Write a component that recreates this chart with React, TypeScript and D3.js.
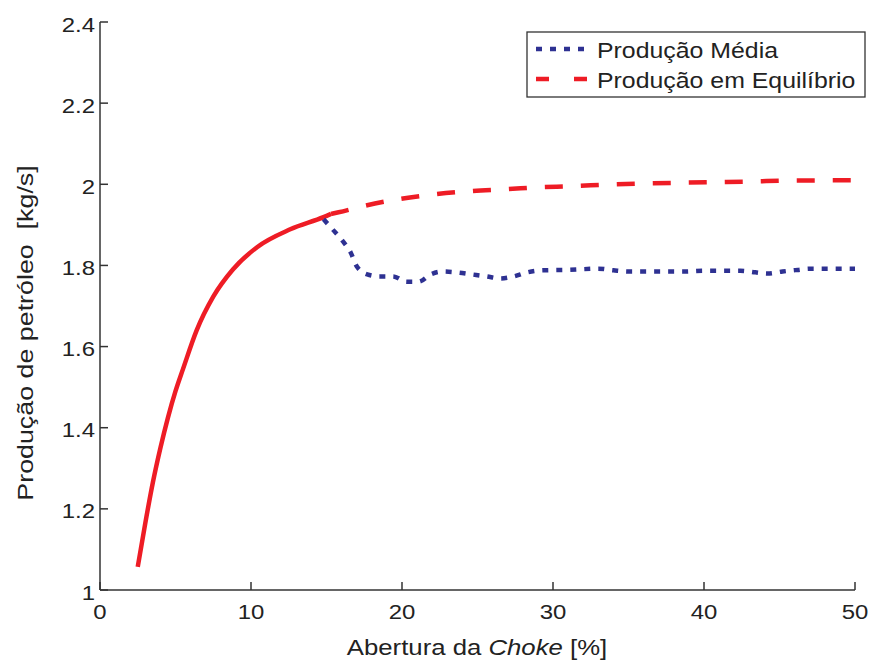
import React from "react";
import * as d3 from "d3";

// Solid red part (stable region, both curves coincide)
const stableX = [2.5, 3.0, 3.5, 4.0, 4.5, 5.0, 5.5, 6.4, 7.5, 8.8, 10.4, 12.6, 14.8, 15.3];
const stableY = [1.057, 1.165, 1.265, 1.35, 1.425, 1.49, 1.545, 1.64, 1.723, 1.79, 1.845, 1.889, 1.919, 1.927];

// Produção em Equilíbrio (dashed)
const eqX = [15.3, 15.8, 17.4, 19.7, 22.1, 24.5, 27.0, 29.3, 31.0, 34.0, 38.6, 43.2, 45.6, 50.0];
const eqY = [1.927, 1.931, 1.946, 1.963, 1.975, 1.983, 1.988, 1.993, 1.995, 2.0, 2.004, 2.007, 2.009, 2.01];

// Produção Média (dotted)
const medX = [14.8, 15.4, 16.1, 16.6, 17.0, 17.7, 18.5, 19.4, 20.3, 21.1, 21.9, 22.7, 23.6, 24.6, 25.6, 26.5, 27.4, 28.3, 29.3, 31.0, 33.0, 34.0, 35.0, 38.6, 40.0, 42.4, 43.4, 44.2, 45.2, 46.2, 47.0, 50.0];
const medY = [1.914, 1.889, 1.859, 1.832, 1.798, 1.778, 1.773, 1.773, 1.76, 1.76, 1.778, 1.785, 1.783, 1.778, 1.773, 1.768, 1.773, 1.783, 1.788, 1.789, 1.792, 1.788, 1.785, 1.785, 1.787, 1.787, 1.783, 1.78, 1.785, 1.789, 1.792, 1.792];

const xTicks = [0, 10, 20, 30, 40, 50];
const yTicks = [1, 1.2, 1.4, 1.6, 1.8, 2, 2.2, 2.4];
const yTickLabels = ["1", "1.2", "1.4", "1.6", "1.8", "2", "2.2", "2.4"];
const legendLabels = ["Produção Média", "Produção em Equilíbrio"];

const W = 872;
const H = 660;
const RED = "#ee1c25";
const BLUE = "#2e3192";
const AXIS = "#333333";
const FONT = "'Liberation Sans', Arial, Helvetica, sans-serif";

export default function App() {
  const x = d3.scaleLinear().domain([0, 50]).range([100, 855]);
  const y = d3.scaleLinear().domain([1, 2.4]).range([590, 22]);

  const line = d3
    .line<[number, number]>()
    .x((d) => x(d[0]))
    .y((d) => y(d[1]))
    .curve(d3.curveMonotoneX);

  const stable = stableX.map((v, i) => [v, stableY[i]] as [number, number]);
  const eq = eqX.map((v, i) => [v, eqY[i]] as [number, number]);
  const med = medX.map((v, i) => [v, medY[i]] as [number, number]);

  return (
    <svg
      width={W}
      height={H}
      style={{ position: "absolute", left: 0, top: 0, background: "#fff" }}
      fontFamily={FONT}
    >
      <rect x={0} y={0} width={W} height={H} fill="#fff" />

      {/* curves */}
      <path d={line(eq) || ""} fill="none" stroke={RED} strokeWidth={4.5} strokeDasharray="18,18" />
      <path d={line(stable) || ""} fill="none" stroke={RED} strokeWidth={4.5} strokeLinecap="butt" />
      <path d={line(med) || ""} fill="none" stroke={BLUE} strokeWidth={4.5} strokeDasharray="6,8" />

      {/* axes */}
      <line x1={x(0)} x2={x(0)} y1={y(2.4)} y2={y(1)} stroke={AXIS} strokeWidth={1.5} />
      <line x1={x(0)} x2={x(50)} y1={y(1)} y2={y(1)} stroke={AXIS} strokeWidth={1.5} />
      {yTicks.map((t, i) => (
        <g key={"y" + t}>
          <line x1={x(0)} x2={x(0) + 8} y1={y(t)} y2={y(t)} stroke={AXIS} strokeWidth={1.5} />
          <text
            transform={`translate(${x(0) - 5},${y(t) + 9.5}) scale(1.14,1)`}
            textAnchor="end"
            fontSize={21}
            fill="#222"
          >
            {yTickLabels[i]}
          </text>
        </g>
      ))}
      {xTicks.map((t) => (
        <g key={"x" + t}>
          <line x1={x(t)} x2={x(t)} y1={y(1)} y2={y(1) - 8} stroke={AXIS} strokeWidth={1.5} />
          <text
            transform={`translate(${x(t)},619) scale(1.14,1)`}
            textAnchor="middle"
            fontSize={21}
            fill="#222"
          >
            {t}
          </text>
        </g>
      ))}

      {/* axis labels */}
      <text transform={`translate(477,655) scale(1.17,1)`} textAnchor="middle" fontSize={22} fill="#222">
        Abertura da <tspan fontStyle="italic">Choke</tspan> [%]
      </text>
      <text
        transform={`translate(33,333) rotate(-90) scale(1.22,1)`}
        textAnchor="middle"
        fontSize={22}
        fill="#222"
        style={{ whiteSpace: "pre" }}
      >
        {"Produção de petróleo  [kg/s]"}
      </text>

      {/* legend */}
      <rect x={527} y={32} width={338} height={65} fill="#fff" stroke={AXIS} strokeWidth={1.3} />
      <line x1={536} x2={587} y1={49} y2={49} stroke={BLUE} strokeWidth={4.5} strokeDasharray="6,8" />
      <line x1={536} x2={587} y1={79} y2={79} stroke={RED} strokeWidth={4.5} strokeDasharray="13,25" />
      <text transform={`translate(597,58) scale(1.13,1)`} fontSize={22} fill="#222">
        {legendLabels[0]}
      </text>
      <text transform={`translate(597,88) scale(1.13,1)`} fontSize={22} fill="#222">
        {legendLabels[1]}
      </text>
    </svg>
  );
}
